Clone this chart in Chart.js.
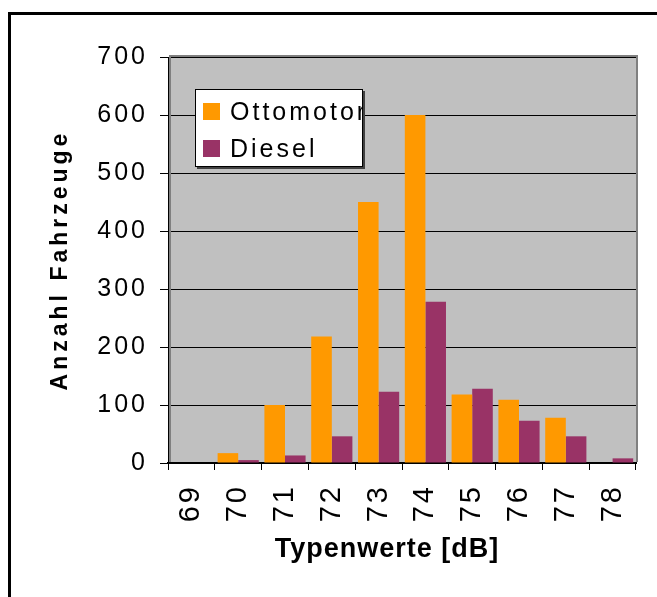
<!DOCTYPE html>
<html>
<head>
<meta charset="utf-8">
<title>Typenwerte</title>
<script src="https://cdn.jsdelivr.net/npm/chart.js@4.4.1/dist/chart.umd.min.js"></script>
<style>
  html, body { margin: 0; padding: 0; background: #fff; overflow: hidden; }
  #frame { position: absolute; left: 8px; top: 12px; width: 700px; height: 700px;
           border-left: 3px solid #000; border-top: 3px solid #000; }
  #chart { position: absolute; left: 0; top: 0; }
</style>
</head>
<body>
<div id="frame"></div>
<canvas id="chart" width="657" height="597"></canvas>
<script>
// data
var categories = ['69', '70', '71', '72', '73', '74', '75', '76', '77', '78'];
var ottoValues = [0, 17, 100, 218, 450, 600, 118, 109, 78, 0];
var dieselValues = [0, 5, 13, 46, 123, 278, 128, 73, 46, 8];
var seriesNames = ['Ottomotor', 'Diesel'];
var yMin = 0, yMax = 700, yStep = 100;
var xTitle = 'Typenwerte [dB]';
var yTitle = 'Anzahl Fahrzeuge';

var FONT = "'Liberation Sans', Arial, sans-serif";

// plot background, plot border, inner legend and axis titles
var excelLook = {
    id: 'excelLook',
    beforeDraw: function (chart) {
        var ctx = chart.ctx;
        var a = chart.chartArea;
        ctx.letterSpacing = '3px';
        ctx.save();
        ctx.fillStyle = '#c0c0c0';
        ctx.fillRect(a.left, a.top, a.right - a.left, a.bottom - a.top);
        ctx.restore();
    },
    afterDraw: function (chart) {
        var ctx = chart.ctx;
        var a = chart.chartArea;

        // grey plot border (top, right, inner left)
        ctx.save();
        ctx.strokeStyle = '#808080';
        ctx.lineWidth = 2;
        ctx.beginPath();
        ctx.moveTo(a.left + 1, a.top - 1);
        ctx.lineTo(a.right + 1, a.top - 1);
        ctx.lineTo(a.right + 1, a.bottom - 1);
        ctx.moveTo(a.left + 2, a.top - 1);
        ctx.lineTo(a.left + 2, a.bottom - 1);
        ctx.stroke();
        ctx.restore();

        // legend box inside plot
        var bx = a.left + 27, by = a.top + 32, bw = 168, bh = 78;
        ctx.save();
        ctx.fillStyle = '#404040';
        ctx.fillRect(bx + 2, by + 2, bw, bh);
        ctx.fillStyle = '#fff';
        ctx.fillRect(bx, by, bw, bh);
        ctx.strokeStyle = '#000';
        ctx.lineWidth = 1;
        ctx.strokeRect(bx + 0.5, by + 0.5, bw - 1, bh - 1);
        ctx.beginPath();
        ctx.rect(bx + 1, by + 1, bw - 2, bh - 2);
        ctx.clip();
        chart.data.datasets.forEach(function (ds, i) {
            ctx.fillStyle = ds.backgroundColor;
            ctx.fillRect(bx + 8, by + 14 + i * 37, 17, 17);
            ctx.fillStyle = '#000';
            ctx.font = '25px ' + FONT;
            ctx.letterSpacing = '3px';
            ctx.textAlign = 'left';
            ctx.textBaseline = 'alphabetic';
            ctx.fillText(ds.label, bx + 35, by + 31 + i * 37);
        });
        ctx.restore();

        // x axis title
        ctx.save();
        ctx.fillStyle = '#000';
        ctx.font = 'bold 27px ' + FONT;
        ctx.letterSpacing = '1px';
        ctx.textAlign = 'center';
        ctx.textBaseline = 'middle';
        ctx.fillText(xTitle, (a.left + a.right) / 2 - 15, a.bottom + 87);
        ctx.restore();

        // y axis title
        ctx.save();
        ctx.fillStyle = '#000';
        ctx.font = 'bold 23px ' + FONT;
        ctx.letterSpacing = '4px';
        ctx.textAlign = 'center';
        ctx.textBaseline = 'middle';
        ctx.translate(a.left - 107, (a.top + a.bottom) / 2);
        ctx.rotate(-Math.PI / 2);
        ctx.fillText(yTitle, 0, 0);
        ctx.restore();
    }
};

new Chart(document.getElementById('chart'), {
    type: 'bar',
    data: {
        labels: categories,
        datasets: [{
            label: seriesNames[0],
            data: ottoValues,
            backgroundColor: '#ff9900',
            borderWidth: 0
        }, {
            label: seriesNames[1],
            data: dieselValues,
            backgroundColor: '#993366',
            borderWidth: 0
        }]
    },
    options: {
        responsive: false,
        animation: false,
        devicePixelRatio: 1,
        categoryPercentage: 0.88,
        barPercentage: 1.0,
        layout: {
            padding: { left: 0, right: 21, top: 57, bottom: 0 }
        },
        plugins: {
            legend: { display: false },
            tooltip: { enabled: false }
        },
        scales: {
            x: {
                afterFit: function (scale) {
                    scale.height = 134;
                    scale.paddingLeft = 0;
                    scale.paddingRight = 0;
                },
                grid: {
                    offset: true,
                    drawOnChartArea: false,
                    tickLength: 7,
                    tickColor: '#000',
                    tickWidth: 1
                },
                border: { color: '#000', width: 2 },
                ticks: {
                    color: '#000',
                    font: { family: FONT, size: 29 },
                    minRotation: 90,
                    maxRotation: 90,
                    autoSkip: false,
                    padding: 14
                }
            },
            y: {
                min: yMin,
                max: yMax,
                afterFit: function (scale) {
                    scale.width = 168;
                    scale.paddingTop = 0;
                    scale.paddingBottom = 0;
                },
                grid: {
                    color: '#000',
                    lineWidth: 1,
                    tickLength: 8,
                    tickColor: '#000'
                },
                border: { color: '#000', width: 1 },
                ticks: {
                    stepSize: yStep,
                    color: '#000',
                    font: { family: FONT, size: 25 },
                    padding: 12
                }
            }
        }
    },
    plugins: [excelLook]
});
</script>
</body>
</html>
